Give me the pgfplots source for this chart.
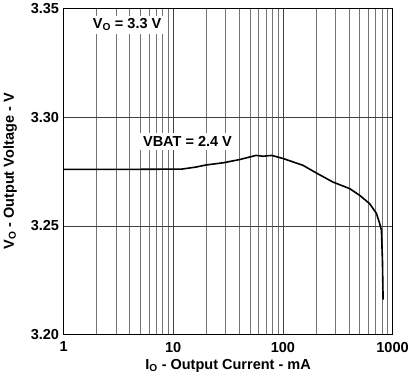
\documentclass[border=0pt]{standalone}
\usepackage{fontspec}
\setmainfont{Liberation Sans}
\usepackage{pgfplots}
\pgfplotsset{compat=1.18}
\begin{document}
\begin{tikzpicture}[x=1pt,y=1pt]
\begin{axis}[
  scale only axis,
  width=329pt, height=326pt,
  xmode=log, xmin=1, xmax=1000,
  ymin=3.20, ymax=3.35,
  xtick={1,10,100,1000},
  xticklabels={1,10,100,1000},
  minor xtick={2,3,4,5,6,7,8,9,20,30,40,50,60,70,80,90,200,300,400,500,600,700,800,900},
  ytick={3.20,3.25,3.30,3.35},
  yticklabel style={xshift=-1pt,/pgf/number format/.cd,fixed,fixed zerofill,precision=2},
  /pgf/number format/assume math mode=true,
  grid=both,
  major grid style={black!75, line width=0.6pt},
  minor grid style={black!55, line width=0.6pt},
  axis line style={line width=1.2pt},
  tick style={draw=none},
  ticklabel style={font=\fontsize{14.5}{16}\selectfont\bfseries},
  xticklabel style={yshift=-4pt},
  label style={font=\fontsize{14.5}{16}\selectfont\bfseries},
  xlabel={I\textsubscript{O} - Output Current - mA},
  ylabel={V\textsubscript{O} - Output Voltage - V},
  xlabel style={yshift=0pt},
  ylabel style={yshift=7pt},
  clip=false,
]
\addplot[black, line width=1.6pt] coordinates {
(1,3.2760) (5,3.2760) (12,3.2761) (16,3.2770) (20,3.2780) (28.6,3.2790)
(40.5,3.2805) (57,3.2824) (66,3.2820) (79,3.2824) (100,3.2810)
(153,3.2778) (202,3.2743) (287,3.2701) (407,3.2671) (502,3.2640)
(618,3.2602) (713,3.2557) (764,3.2510) (792,3.2480) (809,3.2340) (820,3.2160)
};
\node[fill=white, inner sep=3pt, font=\fontsize{14.5}{16}\selectfont\bfseries] at (axis cs:3.8,3.3425) {V\textsubscript{O} = 3.3 V};
\node[fill=white, inner sep=3pt, font=\fontsize{14.5}{16}\selectfont\bfseries] at (axis cs:13.5,3.2888) {VBAT = 2.4 V};
\end{axis}
\end{tikzpicture}
\end{document}
